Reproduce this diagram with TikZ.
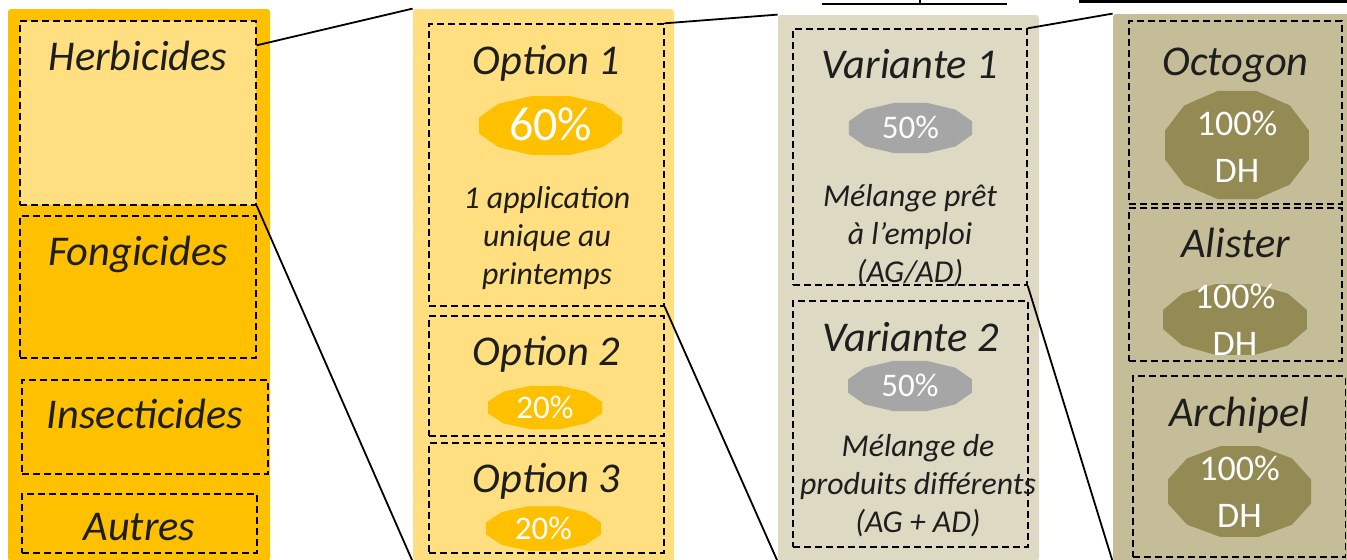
\documentclass[tikz,border=0pt]{standalone}
\usepackage{fontspec}
\setmainfont{Carlito}
\usetikzlibrary{positioning, fit, calc}
\definecolor{orange}{HTML}{FFC000}
\definecolor{jaune}{HTML}{FFDF7F}
\definecolor{beige}{HTML}{DDD9C3}
\definecolor{tan}{HTML}{C4BD97}
\definecolor{olive}{HTML}{948A54}
\definecolor{gris}{HTML}{A6A6A6}
\definecolor{encre}{HTML}{1E1E1E}
\tikzset{
  colonne/.style={rounded corners=1.5pt, inner sep=0pt},
  zone/.style={draw, dash pattern=on 3.5pt off 2pt, line width=0.7pt, inner sep=0pt},
  titre/.style={font=\fontsize{21.2}{25}\selectfont\itshape, text=encre, anchor=base},
  desc/.style={font=\fontsize{15.9}{19}\selectfont\itshape, text=encre, align=center, anchor=base},
  pct/.style={text=white, inner sep=0pt, text height=10.5pt, text depth=0pt, font=\fontsize{16.5}{20}\selectfont},
  dh/.style={text=white, inner sep=0pt, align=center, font=\fontsize{18}{23.5}\selectfont},
  lien/.style={line width=0.9pt}
}
% dodecagone etire (centre en px, demi-axes en px)
\newcommand{\pastille}[6]{%
  \coordinate (#1) at (#2,#3);
  \fill[#6] plot[samples at={15,45,...,345}, variable=\t] ({#2+#4*cos(\t)},{#3+#5*sin(\t)}) -- cycle;
}

\begin{document}
\begin{tikzpicture}[x=0.5pt, y=-0.5pt]
\useasboundingbox (0,0) rectangle (1347,559);
\clip (0,0) rectangle (1347,559);
% colonnes
\node[colonne, fill=orange, fit={(8,9) (270,561)}] (c1) {};
\node[colonne, fill=jaune, fit={(413,9) (674,561)}] (c2) {};
\node[colonne, fill=beige, fit={(778,15) (1039,561)}] (c3) {};
\node[colonne, fill=tan, fit={(1113,14) (1365,561)}] (c4) {};
% restes de titres souligne en haut
\draw[line width=1.2pt] (822,4) -- (1007,4) (920,0) -- (920,4);
\draw[line width=1.2pt] (1079,1.5) -- (1347,1.5);
% familles
\node[zone, fill=jaune, fit={(20,21) (256,205)}] (herb) {};
\node[zone, fit={(20,216) (256,358)}] (fong) {};
\node[zone, fit={(22,380) (268,474)}] (insect) {};
\node[zone, fit={(22,494) (257,553)}] (autres) {};
\node[titre] (t-herb) at ([yshift=-25pt]herb.north) {Herbicides};
\node[titre] (t-fong) at ([yshift=-25pt]fong.north) {Fongicides};
\node[titre] (t-insect) at ([yshift=-24.5pt]insect.north) {Insecticides};
\node[titre] (t-autres) at ([yshift=-23.5pt]autres.north) {Autres};
% options
\node[zone, fit={(429,24) (664,306)}] (opt1) {};
\node[zone, fit={(429,316) (664,436)}] (opt2) {};
\node[zone, fit={(429,443) (664,553)}] (opt3) {};
\node[titre] (t-opt1) at ([yshift=-25.5pt]opt1.north) {Option 1};
\node[titre] (t-opt2) at ([yshift=-25pt]opt2.north) {Option 2};
\node[titre] (t-opt3) at ([yshift=-25pt]opt3.north) {Option 3};
\pastille{p60}{550.5}{125.5}{74}{30.5}{orange}
\node[pct, text height=15.2pt, font=\fontsize{24}{28}\selectfont] (n60) at (p60) {60\%};
\pastille{p20a}{545}{407.5}{59}{22.3}{orange}
\node[pct] (n20a) at (p20a) {20\%};
\pastille{p20b}{543.5}{528.5}{59.5}{23}{orange}
\node[pct] (n20b) at (p20b) {20\%};
\node[desc] (d-opt1) at (547,284) {1 application\\unique au\\printemps};
% variantes
\node[zone, fit={(793,29) (1027,285)}] (var1) {};
\node[zone, fit={(793,301) (1028,547)}] (var2) {};
\node[titre] (t-var1) at ([yshift=-25pt]var1.north) {Variante 1};
\node[titre] (t-var2) at ([yshift=-25.5pt]var2.north) {Variante 2};
\pastille{p50a}{910.5}{128}{63.7}{26}{gris}
\node[pct] (n50a) at (p50a) {50\%};
\pastille{p50b}{910}{386}{64}{26}{gris}
\node[pct] (n50b) at (p50b) {50\%};
\node[desc] (d-var1) at (910,282) {Mélange prêt\\à l’emploi\\(AG/AD)};
\node[desc] (d-var2) at (918,532) {Mélange de\\produits différents\\(AG + AD)};
% produits
\node[zone, fit={(1129,21) (1342,204)}] (octo) {};
\node[zone, fit={(1129,208) (1342,361)}] (alis) {};
\node[zone, fit={(1133,376) (1345.5,557)}] (arch) {};
\node[titre] (t-octo) at ([yshift=-27.5pt]octo.north) {Octogon};
\node[titre] (t-alis) at ([yshift=-25pt]alis.north) {Alister};
\node[titre] (t-arch) at ([yshift=-25.5pt]arch.north) {Archipel};
\pastille{po}{1237}{145}{74.5}{56}{olive}
\node[dh] (no) at ([yshift=-1pt]po) {100\%\\DH};
\pastille{pa}{1235}{319.5}{74.5}{36.7}{olive}
\node[dh] (na) at (pa) {100\%\\DH};
\pastille{pr}{1239.5}{491.5}{74}{47}{olive}
\node[dh] (nr) at (pr) {100\%\\DH};
% liens de zoom
\draw[lien] ([yshift=-12.5pt]herb.north east) -- (c2.north west);
\draw[lien] (herb.south east) -- (c2.south west);
\draw[lien] (opt1.north east) -- (c3.north west);
\draw[lien] (opt1.south east) -- (c3.south west);
\draw[lien] (var1.north east) -- (c4.north west);
\draw[lien] (var1.south east) -- (c4.south west);
\end{tikzpicture}
\end{document}
